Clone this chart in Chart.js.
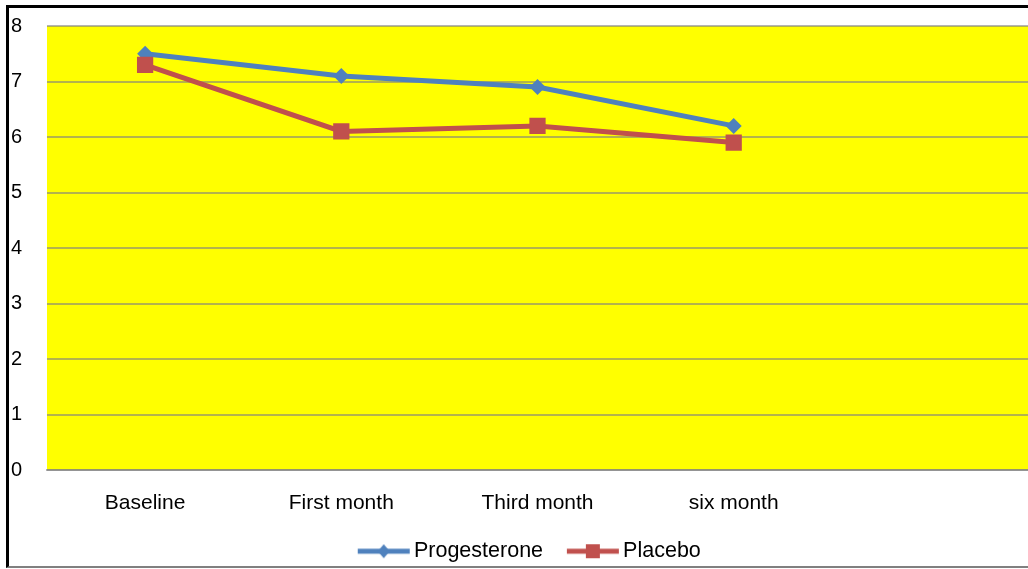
<!DOCTYPE html>
<html>
<head>
<meta charset="utf-8">
<script src="https://cdn.jsdelivr.net/npm/chart.js@4.4.1/dist/chart.umd.min.js"></script>
<style>
  html, body { margin: 0; padding: 0; background: #fff; overflow: hidden; }
  #wrap { position: relative; width: 1028px; height: 569px; overflow: hidden; }
  #frame {
    position: absolute; left: 6px; top: 5px; width: 1100px; height: 558px;
    border-left: 3px solid #000; border-top: 3px solid #000; border-bottom: 2px solid #808080;
    pointer-events: none;
  }
</style>
</head>
<body>
<div id="wrap">
  <canvas id="line-chart" width="1028" height="572"></canvas>
  <div id="frame"></div>
</div>
<script>
// chart data
var categories = ['Baseline', 'First month', 'Third month', 'six month', ''];
var progesterone = [7.5, 7.1, 6.9, 6.2];
var placebo = [7.3, 6.1, 6.2, 5.9];
var yTicks = [0, 1, 2, 3, 4, 5, 6, 7, 8];

var BLUE = '#4F81BD';
var RED = '#C0504D';
var GRID = 'rgba(128,128,128,0.6)';
var FONT = '"Liberation Sans", Arial, sans-serif';

// line+marker picture for the legend, drawn in the right part of the canvas
function legendIcon(color, shape) {
  var c = document.createElement('canvas');
  c.width = 80; c.height = 20;
  var ctx = c.getContext('2d');
  ctx.strokeStyle = color;
  ctx.fillStyle = color;
  ctx.lineWidth = 5;
  ctx.beginPath();
  ctx.moveTo(27, 10); ctx.lineTo(79, 10);
  ctx.stroke();
  ctx.beginPath();
  if (shape == 'diamond') {
    ctx.moveTo(53, 3); ctx.lineTo(59, 10); ctx.lineTo(53, 17); ctx.lineTo(47, 10);
    ctx.closePath();
  } else {
    ctx.rect(46, 3, 14, 14);
  }
  ctx.fill();
  return c;
}
var icons = [legendIcon(BLUE, 'diamond'), legendIcon(RED, 'square')];

var yellowArea = {
  id: 'yellowArea',
  beforeDraw: function(chart) {
    var a = chart.chartArea;
    var ctx = chart.ctx;
    ctx.save();
    ctx.fillStyle = '#FFFF00';
    ctx.fillRect(a.left, a.top, a.right - a.left, a.bottom - a.top);
    ctx.restore();
  }
};

new Chart(document.getElementById('line-chart'), {
  type: 'line',
  data: {
    labels: categories,
    datasets: [
      {
        label: 'Progesterone',
        data: progesterone,
        borderColor: BLUE,
        backgroundColor: BLUE,
        borderWidth: 5,
        pointStyle: 'rectRot',
        pointRadius: 8,
        pointHoverRadius: 8,
        pointBorderWidth: 0,
        tension: 0,
        order: 1
      },
      {
        label: 'Placebo',
        data: placebo,
        borderColor: RED,
        backgroundColor: RED,
        borderWidth: 5,
        pointStyle: 'rect',
        pointRadius: 11.5,
        pointHoverRadius: 11.5,
        pointBorderWidth: 0,
        tension: 0,
        order: 0
      }
    ]
  },
  plugins: [yellowArea],
  options: {
    responsive: false,
    animation: false,
    layout: { autoPadding: false, padding: { left: 11, right: 0, top: 26, bottom: 0 } },
    scales: {
      x: {
        offset: true,
        grid: { display: false, drawTicks: false },
        border: { display: true, color: GRID, width: 2 },
        ticks: { color: '#000', padding: 21, font: { family: FONT, size: 21 }, maxRotation: 0 },
        afterFit: function(scale) {
          scale.height = 66.2;
          scale.paddingLeft = 0;
          scale.paddingRight = 0;
        }
      },
      y: {
        min: 0,
        max: 8,
        grid: { color: GRID, lineWidth: 2, drawTicks: false },
        border: { display: false },
        ticks: {
          color: '#000',
          stepSize: 1,
          padding: 0,
          crossAlign: 'far',
          font: { family: FONT, size: 20 },
          callback: function(v) { return yTicks.indexOf(v) >= 0 ? String(v) : ''; }
        },
        afterFit: function(scale) {
          scale.width = 36;
          scale.paddingTop = 0;
          scale.paddingBottom = 0;
        }
      }
    },
    plugins: {
      tooltip: { enabled: false },
      legend: {
        position: 'bottom',
        labels: {
          usePointStyle: true,
          pointStyleWidth: 65,
          padding: 4.3,
          color: '#000',
          font: { family: FONT, size: 21.5 },
          generateLabels: function(chart) {
            var items = Chart.defaults.plugins.legend.labels.generateLabels(chart);
            items.sort(function(a, b) { return a.datasetIndex - b.datasetIndex; });
            items.forEach(function(it) { it.pointStyle = icons[it.datasetIndex]; });
            return items;
          }
        }
      }
    }
  }
});
</script>
</body>
</html>
